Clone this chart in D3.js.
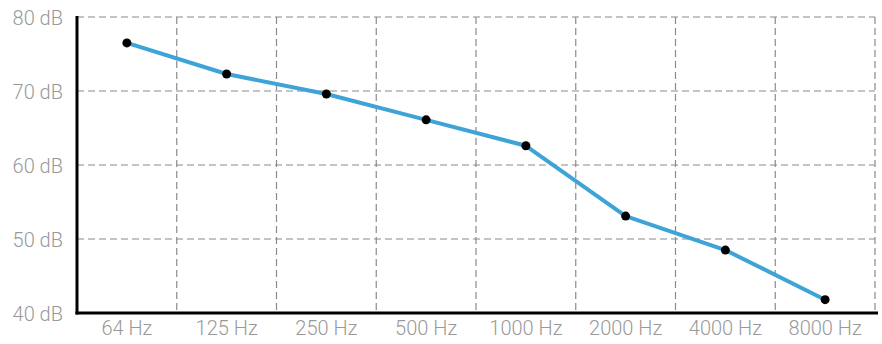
<!DOCTYPE html>
<html><head><meta charset="utf-8">
<script src="https://cdn.jsdelivr.net/npm/d3@7"></script>
<style>body{margin:0;background:#fff}svg{display:block}text{font-family:Roboto,sans-serif;font-weight:300;fill:#999}</style>
</head><body>
<svg id="c" width="882" height="344"></svg>
<script>
const categories = ["64 Hz","125 Hz","250 Hz","500 Hz","1000 Hz","2000 Hz","4000 Hz","8000 Hz"];
const levels = [76.5, 72.3, 69.6, 66.1, 62.6, 53.1, 48.5, 41.8];
const yTicks = [40, 50, 60, 70, 80];

const svg = d3.select("#c");
const L = 77, R = 875, T = 17, B = 313;
const x = d3.scaleBand().domain(categories).range([L, R]).padding(0);
const y = d3.scaleLinear().domain([40, 80]).range([B, T]);

const grid = svg.append("g").attr("stroke", "#8a8a8a").attr("stroke-width", 1.2).attr("stroke-dasharray", "7,4");
grid.selectAll("line.h").data(yTicks.filter(d => d > 40)).join("line")
  .attr("x1", L).attr("x2", R).attr("y1", d => y(d)).attr("y2", d => y(d));
grid.selectAll("line.v").data(categories).join("line")
  .attr("x1", d => x(d) + x.bandwidth()).attr("x2", d => x(d) + x.bandwidth())
  .attr("y1", T).attr("y2", B);

svg.append("line").attr("x1", L).attr("x2", L).attr("y1", T - 1).attr("y2", B + 1.5).attr("stroke", "#000").attr("stroke-width", 3);
svg.append("line").attr("x1", L - 1.5).attr("x2", R + 3).attr("y1", B).attr("y2", B).attr("stroke", "#000").attr("stroke-width", 3);

svg.selectAll("text.y").data(yTicks).join("text")
  .attr("x", 63).attr("y", d => y(d) + 3).attr("text-anchor", "end").attr("dominant-baseline", "middle")
  .attr("font-size", 20).text(d => d + " dB");
svg.selectAll("text.x").data(categories).join("text")
  .attr("x", d => x(d) + x.bandwidth() / 2).attr("y", 330).attr("text-anchor", "middle").attr("dominant-baseline", "middle")
  .attr("font-size", 20).text(d => d);

const line = d3.line().x((d, i) => x(categories[i]) + x.bandwidth() / 2).y(d => y(d));
svg.append("path").datum(levels).attr("d", line).attr("fill", "none").attr("stroke", "#3ea3d6").attr("stroke-width", 4).attr("stroke-linejoin", "round");
svg.selectAll("circle").data(levels).join("circle")
  .attr("cx", (d, i) => x(categories[i]) + x.bandwidth() / 2).attr("cy", d => y(d)).attr("r", 4.5).attr("fill", "#000");
</script>
</body></html>
